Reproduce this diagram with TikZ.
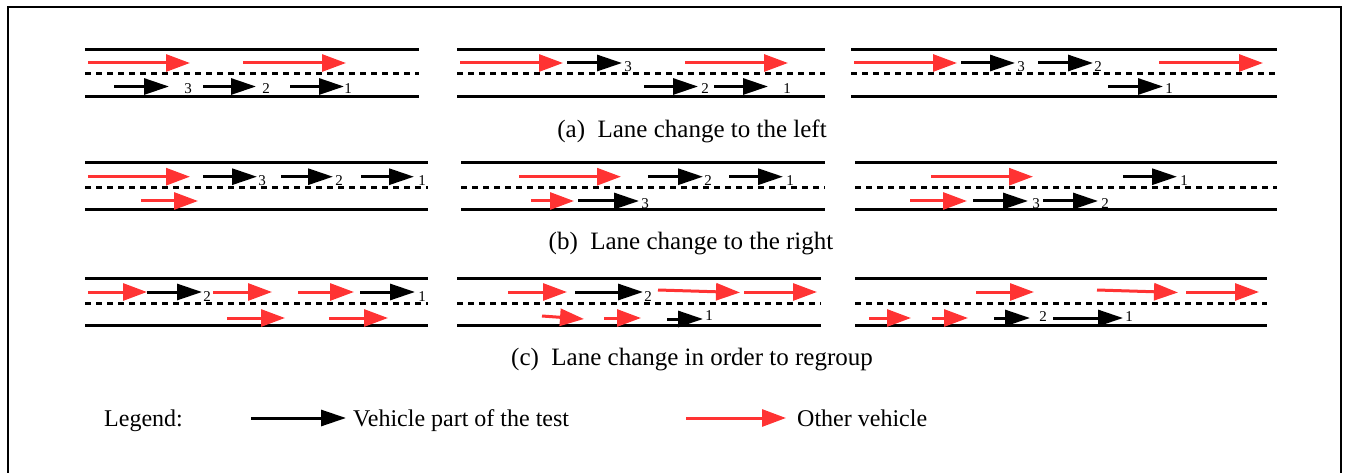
\documentclass[tikz,border=0pt]{standalone}
\usepackage{fontspec}
\setmainfont{LiberationSerif}[Extension=.ttf,UprightFont=*-Regular]
\usepackage{tikz}
\usetikzlibrary{arrows.meta,positioning}
\definecolor{vehred}{RGB}{255,51,51}
\tikzset{
  road/.style={
    line width=3pt
  },
  lane mark/.style={
    line width=3pt,
    dash pattern=on 6pt off 5pt
  },
  test car/.style={
    line width=3pt,
    -{Triangle[length=25pt,width=16pt]}
  },
  other car/.style={
    draw=vehred,
    line width=3pt,
    -{Triangle[length=24pt,width=17pt]}
  },
  car num/.style={
    inner sep=0pt,
    font=\rmfamily\fontsize{15}{15}\selectfont
  },
  caption/.style={
    inner sep=0pt,
    font=\rmfamily\fontsize{25}{30}\selectfont
  },
  legend text/.style={
    inner sep=0pt,
    anchor=west,
    text height=17pt,
    text depth=1pt,
    font=\rmfamily\fontsize{24}{28}\selectfont
  }
}

\begin{document}
\begin{tikzpicture}[x=1pt,y=-1pt]
      \useasboundingbox (0,0) rectangle (1347,473);
      \draw[line width=1.5pt] (8,473) -- (8,7) -- (1341,7) -- (1341,473);
      % (a) lane change to the left
      \draw[road]      (85,49.3) -- (419,49.3) (85,96.7) -- (419,96.7);
      \draw[lane mark] (85,74)   -- (419,74);
      \draw[road]      (457,49.3) -- (825,49.3) (457,96.7) -- (825,96.7);
      \draw[lane mark] (457,74)   -- (825,74);
      \draw[road]      (851,49.3) -- (1277,49.3) (851,96.7) -- (1277,96.7);
      \draw[lane mark] (851,74)   -- (1277,74);
      \draw[other car] (88,63)   -- (190,63);
      \draw[other car] (243,63)  -- (346,63);
      \draw[test car]  (114,86.5) -- (169,86.5);
      \draw[test car]  (203,86.5) -- (256,86.5);
      \draw[test car]  (290,86.5) -- (344,86.5);
      \node[car num] (a1_3) at (188,89) {3};
      \node[car num] (a1_2) at (266,89) {2};
      \node[car num] (a1_1) at (348,89) {1};
      \draw[other car] (460,63)  -- (563,63);
      \draw[test car]  (567,63)  -- (622,63);
      \draw[other car] (685,63)  -- (788,63);
      \draw[test car]  (644,86.5) -- (698,86.5);
      \draw[test car]  (714,86.5) -- (768,86.5);
      \node[car num] (a2_3) at (628,67) {3};
      \node[car num] (a2_2) at (705,89) {2};
      \node[car num] (a2_1) at (787,89) {1};
      \draw[other car] (854,63)  -- (957,63);
      \draw[test car]  (961,63)  -- (1015,63);
      \draw[test car]  (1038,63) -- (1093,63);
      \draw[other car] (1159,63) -- (1263,63);
      \draw[test car]  (1108,86.5) -- (1163,86.5);
      \node[car num] (a3_3) at (1021,67) {3};
      \node[car num] (a3_2) at (1098,67) {2};
      \node[car num] (a3_1) at (1169,89) {1};
      \node[caption] (cap_a) at (692,131) {(a)\enspace Lane change to the left};
      % (b) lane change to the right
      \draw[road]      (85,162.3) -- (428,162.3) (85,210) -- (428,210);
      \draw[lane mark] (85,187.7) -- (428,187.7);
      \draw[road]      (461,162.3) -- (825,162.3) (461,210) -- (825,210);
      \draw[lane mark] (461,187.7) -- (825,187.7);
      \draw[road]      (855,162.3) -- (1277,162.3) (855,210) -- (1277,210);
      \draw[lane mark] (855,187.7) -- (1277,187.7);
      \draw[other car] (88,176.7)  -- (190,176.7);
      \draw[test car]  (203,176.7) -- (257,176.7);
      \draw[test car]  (281,176.7) -- (333,176.7);
      \draw[test car]  (361,176.7) -- (414,176.7);
      \draw[other car] (141,201)   -- (198,201);
      \node[car num] (b1_3) at (262,181) {3};
      \node[car num] (b1_2) at (339,181) {2};
      \node[car num] (b1_1) at (422,181) {1};
      \draw[other car] (519,176.7) -- (621,176.7);
      \draw[test car]  (648,176.7) -- (703,176.7);
      \draw[test car]  (729,176.7) -- (783,176.7);
      \draw[other car] (531,201)   -- (574,201);
      \draw[test car]  (578,201)   -- (639,201);
      \node[car num] (b2_2) at (708,181) {2};
      \node[car num] (b2_1) at (790,181) {1};
      \node[car num] (b2_3) at (645,204) {3};
      \draw[other car] (931,176.7)  -- (1033,176.7);
      \draw[test car]  (1123,176.7) -- (1177,176.7);
      \draw[other car] (910,201)    -- (967,201);
      \draw[test car]  (973,201)    -- (1028,201);
      \draw[test car]  (1043,201)   -- (1098,201);
      \node[car num] (b3_1) at (1184,181) {1};
      \node[car num] (b3_3) at (1036,204) {3};
      \node[car num] (b3_2) at (1105,204) {2};
      \node[caption] (cap_b) at (691,244) {(b)\enspace Lane change to the right};
      % (c) lane change in order to regroup
      \draw[road]      (85,278.3) -- (428,278.3) (85,325.7) -- (428,325.7);
      \draw[lane mark] (85,303.3) -- (428,303.3);
      \draw[road]      (457,278.3) -- (821,278.3) (457,325.7) -- (821,325.7);
      \draw[lane mark] (457,303.3) -- (821,303.3);
      \draw[road]      (855,278.3) -- (1267,278.3) (855,325.7) -- (1267,325.7);
      \draw[lane mark] (855,303.3) -- (1267,303.3);
      \draw[other car] (88,292)  -- (147,292);
      \draw[test car]  (147,292) -- (202,292);
      \draw[other car] (213,292) -- (272,292);
      \draw[other car] (298,292) -- (354,292);
      \draw[test car]  (360,292) -- (415,292);
      \draw[other car] (227,318) -- (285,318);
      \draw[other car] (329,318) -- (388,318);
      \node[car num] (c1_2) at (207,297) {2};
      \node[car num] (c1_1) at (422,297) {1};
      \draw[other car] (508,292)   -- (567,292);
      \draw[test car]  (575,292)   -- (643,292);
      \draw[other car] (658,290)   -- (740,292.5);
      \draw[other car] (744,292)   -- (817,292);
      \draw[other car] (542,316)   -- (584,319);
      \draw[other car] (604,318)   -- (641,318);
      \draw[test car]  (667,319)   -- (703,319);
      \node[car num] (c2_2) at (648,297) {2};
      \node[car num] (c2_1) at (709,316) {1};
      \draw[other car] (976,292)   -- (1034,292);
      \draw[other car] (1097,290)  -- (1178,292.5);
      \draw[other car] (1186,292)  -- (1259,292);
      \draw[other car] (869,318)   -- (911,318);
      \draw[other car] (932,318)   -- (968,318);
      \draw[test car]  (994,318)   -- (1030,318);
      \draw[test car]  (1053,318)  -- (1123,318);
      \node[car num] (c3_2) at (1043,317) {2};
      \node[car num] (c3_1) at (1129,317) {1};
      \node[caption] (cap_c) at (692,360) {(c)\enspace Lane change in order to regroup};
      % legend
      \node[legend text] (legend) at (104,418) {Legend:};
      \coordinate (test_a)  at (251,418);
      \coordinate (test_b)  at (346,418);
      \coordinate (other_a) at (686,418);
      \coordinate (other_b) at (786,418);
      \draw[test car]  (test_a)  -- (test_b);
      \draw[other car] (other_a) -- (other_b);
      \node[legend text] (test_txt)  [right=7pt of test_b]  {Vehicle part of the test};
      \node[legend text] (other_txt) [right=11pt of other_b] {Other vehicle};
    \end{tikzpicture}
\end{document}
